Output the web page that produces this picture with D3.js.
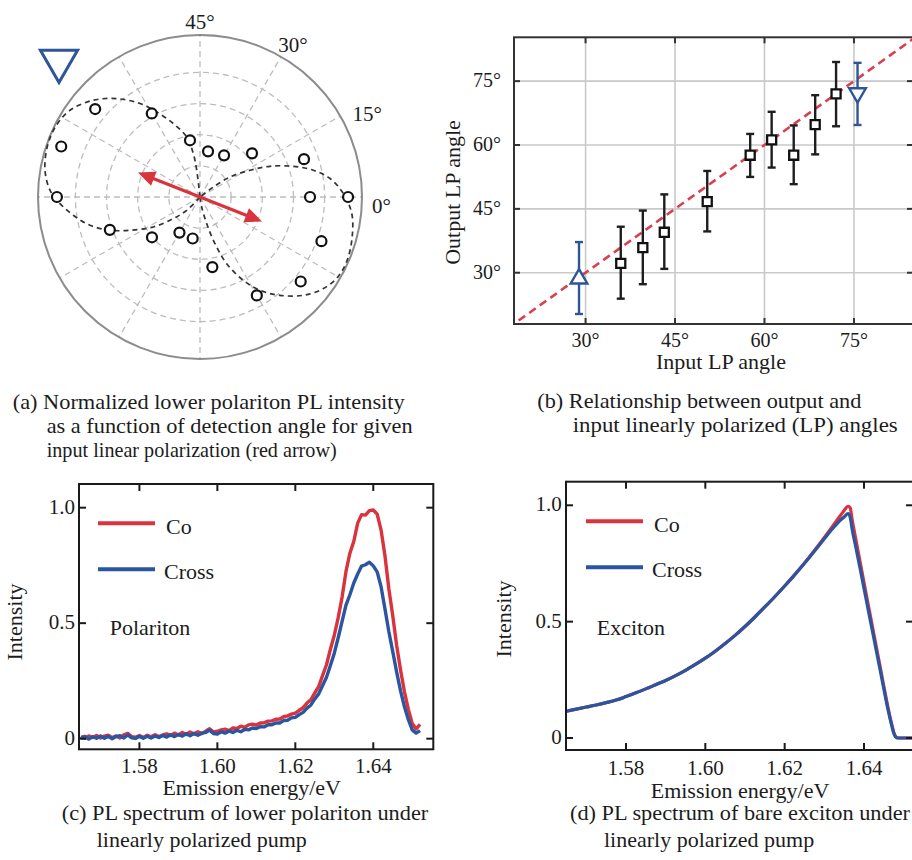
<!DOCTYPE html>
<html>
<head>
<meta charset="utf-8">
<script src="https://cdn.jsdelivr.net/npm/d3@7/dist/d3.min.js"></script>
<style>
  html, body { margin: 0; padding: 0; background: #fff; }
  svg text { font-family: "Liberation Serif", "Times New Roman", Times, serif; fill: #1c1c1c; }
</style>
</head>
<body>
<svg id="fig" width="912" height="860"></svg>
<script>
// ---------- (a) polar pattern of the lower polariton PL ----------
const detectionAngles = [0, 0, 20, 40, 60, 80, 100, 120, 140, 160, 180, 200, 220, 240, 260, 280, 300, 320, 340];
const detectionIntensity = [0.883, 1.188, 0.888, 0.545, 0.386, 0.372, 0.462, 0.774, 1.098, 1.185, 1.148, 0.770, 0.503, 0.330, 0.338, 0.571, 0.912, 1.055, 1.037];
// fitted two-lobe pattern (angle in degrees, radius)
const fitLobeAAngles = [97.0, 98.8, 102.5, 110.0, 117.0, 122.7, 130.3, 137.8, 146.3, 154.2, 161.9, 170.2, 177.4, 182.7, 188.2, 194.4, 200.3, 205.4, 212.7, 219.0, 225.0];
const fitLobeARadii  = [0.216, 0.352, 0.494, 0.627, 0.766, 0.891, 1.035, 1.156, 1.254, 1.290, 1.290, 1.262, 1.205, 1.125, 1.027, 0.912, 0.770, 0.622, 0.445, 0.275, 0.151];
const fitLobeBAngles = [-80.4, -75.9, -72.2, -68.2, -62.5, -57.3, -50.9, -43.6, -36.6, -29.7, -22.9, -14.6, -6.2, 1.4, 8.1, 13.3, 18.2, 23.7, 28.1, 33.7, 36.9];
const fitLobeBRadii  = [0.081, 0.220, 0.393, 0.576, 0.754, 0.890, 1.017, 1.144, 1.233, 1.280, 1.285, 1.262, 1.225, 1.150, 1.054, 0.934, 0.788, 0.613, 0.455, 0.290, 0.133];
const ringValues = [0.25, 0.5, 0.75, 1.0];
const spokeAngles = [0, 30, 60, 90, 120, 150, 180, 210, 240, 270, 300, 330];
const polarTickAngles = [0, 30, 60, 90];
const polarTickLabels = ["0°", "15°", "30°", "45°"];
const pumpAngle = -21.5;     // input linear polarization direction
const pumpLength = 0.535;

// ---------- (b) output vs input LP angle ----------
const inputLP  = [35.9, 39.6, 43.2, 50.4, 57.6, 61.2, 64.9, 68.5, 72.0];
const outputLP = [32.2, 35.9, 39.5, 46.7, 57.6, 61.2, 57.6, 64.8, 72.0];
const outputLow  = [23.9, 27.3, 30.9, 39.7, 52.5, 54.7, 50.8, 57.8, 64.4];
const outputHigh = [40.8, 44.6, 48.4, 53.9, 62.6, 67.8, 64.6, 71.7, 79.5];
const limitInput  = [28.9, 75.6];
const limitOutput = [28.6, 72.2];
const limitLow    = [20.3, 64.7];
const limitHigh   = [37.2, 79.3];
const angleTicks = [30, 45, 60, 75];

// ---------- (c) polariton PL spectra ----------
const polaritonStart = 1.565, polaritonStep = 0.001;
const polaritonCo = [
  0.010,0.002,0.012,0.005,0.014,0.003,0.011,0.015,0.004,0.012,
  0.003,0.017,0.023,0.009,0.006,0.014,0.005,0.015,0.008,0.017,
  0.009,0.016,0.021,0.014,0.024,0.016,0.027,0.018,0.029,0.020,
  0.030,0.022,0.032,0.043,0.029,0.032,0.038,0.041,0.035,0.046,
  0.044,0.054,0.049,0.060,0.063,0.059,0.068,0.069,0.076,0.077,
  0.084,0.085,0.095,0.099,0.106,0.111,0.123,0.134,0.154,0.169,
  0.198,0.226,0.274,0.320,0.387,0.448,0.524,0.613,0.724,0.803,
  0.854,0.933,0.970,0.968,0.987,0.990,0.972,0.903,0.792,0.648,
  0.532,0.403,0.297,0.203,0.127,0.066,0.042,0.062];
const polaritonCross = [
  0.001,0.010,-0.002,0.008,0.002,0.012,0.002,0.010,0.000,0.009,
  0.013,0.003,0.016,0.004,0.001,0.010,0.002,0.011,0.003,0.012,
  0.005,0.014,0.007,0.017,0.009,0.018,0.011,0.021,0.013,0.023,
  0.015,0.024,0.027,0.037,0.022,0.020,0.030,0.024,0.033,0.027,
  0.036,0.030,0.040,0.038,0.046,0.044,0.052,0.051,0.060,0.060,
  0.068,0.068,0.078,0.080,0.090,0.092,0.104,0.114,0.132,0.146,
  0.172,0.194,0.230,0.266,0.317,0.370,0.437,0.508,0.578,0.623,
  0.674,0.713,0.747,0.753,0.764,0.748,0.722,0.658,0.562,0.463,
  0.377,0.288,0.207,0.138,0.082,0.038,0.024,0.035];

// ---------- (d) bare exciton PL spectra ----------
const excitonEnergy = [1.565, 1.5675, 1.570, 1.5725, 1.575, 1.5775, 1.580, 1.5825, 1.585, 1.5875,
  1.590, 1.5925, 1.595, 1.5975, 1.600, 1.6025, 1.605, 1.6075, 1.610, 1.6125, 1.615, 1.6175, 1.620,
  1.6225, 1.625, 1.6275, 1.630, 1.632, 1.634, 1.635, 1.636, 1.6365, 1.637, 1.638, 1.639, 1.640,
  1.641, 1.642, 1.643, 1.644, 1.645, 1.646, 1.647, 1.6475, 1.648, 1.6485, 1.650, 1.6525];
const excitonCross = [0.115, 0.124, 0.133, 0.142, 0.152, 0.163, 0.178, 0.194, 0.211, 0.229,
  0.247, 0.268, 0.291, 0.316, 0.343, 0.373, 0.406, 0.441, 0.479, 0.520, 0.563, 0.607, 0.653,
  0.701, 0.751, 0.803, 0.856, 0.898, 0.935, 0.950, 0.964, 0.950, 0.898, 0.815, 0.730, 0.643,
  0.556, 0.470, 0.384, 0.298, 0.211, 0.126, 0.052, 0.020, 0.004, 0, 0, 0];
const excitonCo = [0.115, 0.124, 0.133, 0.142, 0.152, 0.163, 0.178, 0.194, 0.211, 0.229,
  0.247, 0.268, 0.291, 0.316, 0.343, 0.373, 0.406, 0.441, 0.479, 0.520, 0.563, 0.607, 0.653,
  0.701, 0.752, 0.806, 0.862, 0.908, 0.955, 0.978, 0.996, 0.990, 0.940, 0.848, 0.758, 0.668,
  0.578, 0.490, 0.401, 0.312, 0.222, 0.135, 0.058, 0.025, 0.006, 0, 0, 0];
const energyTicks = [1.58, 1.60, 1.62, 1.64];
const intensityTicks = [0, 0.5, 1.0];
const legendNames = ["Co", "Cross"];

const captionA = ["(a) Normalized lower polariton PL intensity", "as a function of detection angle for given", "input linear polarization (red arrow)"];
const captionB = ["(b) Relationship between output and", "input linearly polarized (LP) angles"];
const captionC = ["(c) PL spectrum of lower polariton under", "linearly polarized pump"];
const captionD = ["(d) PL spectrum of bare exciton under", "linearly polarized pump"];

const RED = "#d9333d", BLUE = "#2a55a0", MARKER_BLUE = "#2d5597";
const svg = d3.select("#fig");

// shared helpers
function text(g, str, x, y, size, anchor) {
  return g.append("text").attr("x", x).attr("y", y).attr("font-size", size)
    .attr("text-anchor", anchor || "start").text(str);
}
// caption lines: [x, baseline, optional fitted width]
function captionBlock(lines, pos) {
  lines.forEach((s, i) => {
    const t = text(svg, s, pos[i][0], pos[i][1], 22);
    if (pos[i][2]) t.attr("textLength", pos[i][2]).attr("lengthAdjust", "spacingAndGlyphs");
  });
}
function frame(g, x0, x1, y0, y1, xt, yt, tl, color) {
  g.append("rect").attr("x", x0).attr("y", y0).attr("width", x1 - x0).attr("height", y1 - y0)
    .attr("fill", "none").attr("stroke", color).attr("stroke-width", 2);
  xt.forEach(px => {
    g.append("line").attr("x1", px).attr("x2", px).attr("y1", y1).attr("y2", y1 - tl).attr("stroke", color).attr("stroke-width", 2);
    g.append("line").attr("x1", px).attr("x2", px).attr("y1", y0).attr("y2", y0 + tl).attr("stroke", color).attr("stroke-width", 2);
  });
  yt.forEach(py => {
    g.append("line").attr("x1", x0).attr("x2", x0 + tl).attr("y1", py).attr("y2", py).attr("stroke", color).attr("stroke-width", 2);
    g.append("line").attr("x1", x1).attr("x2", x1 - tl).attr("y1", py).attr("y2", py).attr("stroke", color).attr("stroke-width", 2);
  });
}

// ================= (a) =================
(function () {
  const cx = 200, cy = 197;
  const g = svg.append("g").attr("transform", `translate(${cx},${cy})`);
  const r = d3.scaleLinear().domain([0, 1.3]).range([0, 162]);
  const rad = d => d * Math.PI / 180;
  const xy = (a, v) => [r(v) * Math.cos(rad(a)), -r(v) * Math.sin(rad(a))];

  g.selectAll("circle.ring").data(ringValues).join("circle").attr("class", "ring")
    .attr("r", d => r(d)).attr("fill", "none").attr("stroke", "#bdbdbd")
    .attr("stroke-width", 1.3).attr("stroke-dasharray", "6,4");
  g.selectAll("line.spoke").data(spokeAngles).join("line").attr("class", "spoke")
    .attr("x1", 0).attr("y1", 0)
    .attr("x2", d => xy(d, 1.3)[0]).attr("y2", d => xy(d, 1.3)[1])
    .attr("stroke", "#bdbdbd").attr("stroke-width", 1.3).attr("stroke-dasharray", "6,4");
  g.append("circle").attr("r", r(1.3)).attr("fill", "none").attr("stroke", "#8c8c8c").attr("stroke-width", 2);

  // fitted lobes
  const radial = d3.lineRadial()
    .angle(d => rad(90 - d[0])).radius(d => r(d[1]))
    .curve(d3.curveCatmullRom.alpha(0.5));
  function lobe(angles, radii) {
    const pts = angles.map((a, i) => [a, radii[i]]);
    return [[angles[0], 0]].concat(pts, [[angles[angles.length - 1], 0]]);
  }
  [[fitLobeAAngles, fitLobeARadii], [fitLobeBAngles, fitLobeBRadii]].forEach(([a, v]) => {
    g.append("path").attr("d", radial(lobe(a, v))).attr("fill", "none")
      .attr("stroke", "#333").attr("stroke-width", 1.7).attr("stroke-dasharray", "5,4");
  });

  // measured points
  g.selectAll("circle.pt").data(detectionAngles.map((a, i) => [a, detectionIntensity[i]]))
    .join("circle").attr("class", "pt")
    .attr("cx", d => xy(d[0], d[1])[0]).attr("cy", d => xy(d[0], d[1])[1])
    .attr("r", 5).attr("fill", "#fff").attr("stroke", "#111").attr("stroke-width", 2.2);

  // pump polarization (double arrow)
  const tipA = xy(pumpAngle, pumpLength), tipB = xy(pumpAngle + 180, pumpLength);
  const ux = Math.cos(rad(pumpAngle)), uy = -Math.sin(rad(pumpAngle));
  const head = 17, half = 7.5;
  g.append("line")
    .attr("x1", tipB[0] + ux * (head - 2)).attr("y1", tipB[1] + uy * (head - 2))
    .attr("x2", tipA[0] - ux * (head - 2)).attr("y2", tipA[1] - uy * (head - 2))
    .attr("stroke", RED).attr("stroke-width", 3.2);
  [[tipA, 1], [tipB, -1]].forEach(([t, s]) => {
    const bx = t[0] - s * ux * head, by = t[1] - s * uy * head;
    const pts = [[t[0], t[1]], [bx - uy * half, by + ux * half], [bx + uy * half, by - ux * half]];
    g.append("polygon").attr("points", pts.map(p => p.join(",")).join(" ")).attr("fill", RED);
  });

  // angle labels
  const nudge = { 0: [-4, 16, "start"], 30: [0, 12, "start"], 60: [5, 7, "middle"], 90: [0, 8, "middle"] };
  polarTickAngles.forEach((a, i) => {
    const p = xy(a, 1.413);
    const n = nudge[a];
    text(g, polarTickLabels[i], p[0] + n[0], p[1] + n[1], 21, n[2]);
  });

  // reference marker
  svg.append("path").attr("d", d3.symbol().type(d3.symbolTriangle).size(600)())
    .attr("transform", "translate(59,61) rotate(180)")
    .attr("fill", "#fff").attr("stroke", MARKER_BLUE).attr("stroke-width", 3);

  captionBlock(captionA, [[12.7, 409, 392], [46.7, 433, 366], [46.7, 456.5, 290]]);
})();

// ================= (b) =================
(function () {
  const L = 514, R = 913, T = 37.3, B = 324;
  const x = d3.scaleLinear().domain([18, 84.9]).range([L, R]);
  const y = d3.scaleLinear().domain([17.95, 85.3]).range([B, T]);
  const g = svg.append("g");
  g.append("clipPath").attr("id", "clipB").append("rect").attr("x", L).attr("y", T).attr("width", R - L).attr("height", B - T);

  // grid
  angleTicks.forEach(t => {
    g.append("line").attr("x1", x(t)).attr("x2", x(t)).attr("y1", T).attr("y2", B).attr("stroke", "#c9c9c9").attr("stroke-width", 1.6);
    g.append("line").attr("x1", L).attr("x2", R).attr("y1", y(t)).attr("y2", y(t)).attr("stroke", "#c9c9c9").attr("stroke-width", 1.6);
  });
  // identity line
  g.append("line").attr("clip-path", "url(#clipB)")
    .attr("x1", x(17)).attr("y1", y(17)).attr("x2", x(90)).attr("y2", y(90))
    .attr("stroke", "#d8404f").attr("stroke-width", 2.6).attr("stroke-dasharray", "8,5");

  // error bars + markers
  function errBar(xi, lo, hi, color) {
    g.append("line").attr("x1", x(xi)).attr("x2", x(xi)).attr("y1", y(lo)).attr("y2", y(hi)).attr("stroke", color).attr("stroke-width", 2.4);
    [lo, hi].forEach(v => g.append("line").attr("x1", x(xi) - 4).attr("x2", x(xi) + 4).attr("y1", y(v)).attr("y2", y(v)).attr("stroke", color).attr("stroke-width", 2.4));
  }
  inputLP.forEach((xi, i) => errBar(xi, outputLow[i], outputHigh[i], "#1e1e1e"));
  limitInput.forEach((xi, i) => errBar(xi, limitLow[i], limitHigh[i], MARKER_BLUE));
  g.selectAll("path.sq").data(inputLP).join("path").attr("class", "sq")
    .attr("d", d3.symbol().type(d3.symbolSquare).size(82)())
    .attr("transform", (d, i) => `translate(${x(d)},${y(outputLP[i])})`)
    .attr("fill", "#fff").attr("stroke", "#111").attr("stroke-width", 2.3);
  g.selectAll("path.tri").data(limitInput).join("path").attr("class", "tri")
    .attr("d", d3.symbol().type(d3.symbolTriangle).size(120)())
    .attr("transform", (d, i) => `translate(${x(d)},${y(limitOutput[i])}) rotate(${i === 0 ? 0 : 180})`)
    .attr("fill", "#fff").attr("stroke", MARKER_BLUE).attr("stroke-width", 2.4);

  frame(g, L, R, T, B, angleTicks.map(x), angleTicks.map(y), 6, "#333");

  angleTicks.forEach(t => {
    text(g, t + "°", x(t), 347, 20, "middle");
    text(g, t + "°", 501, y(t) + 6, 20, "end");
  });
  text(g, "Input LP angle", 721, 368.5, 22, "middle");
  text(g, "Output LP angle", 0, 0, 22, "middle").attr("transform", "translate(460,192.5) rotate(-90)");

  captionBlock(captionB, [[537.3, 408, 324], [572.7, 431.7, 325]]);
})();

// ================= (c) and (d) =================
function spectrumPanel(o) {
  const x = d3.scaleLinear().domain(o.xDomain).range([o.L, o.R]);
  const y = d3.scaleLinear().domain(o.yDomain).range([o.B, o.T]);
  const g = svg.append("g");
  const id = "clip" + o.key;
  g.append("clipPath").attr("id", id).append("rect").attr("x", o.L).attr("y", o.T).attr("width", o.R - o.L).attr("height", o.B - o.T);
  const line = d3.line().x(d => x(d[0])).y(d => y(d[1])).curve(o.curve);
  [[o.co, RED], [o.cross, BLUE]].forEach(([vals, c]) => {
    g.append("path").attr("clip-path", `url(#${id})`)
      .attr("d", line(vals.map((v, i) => [o.energy[i], v])))
      .attr("fill", "none").attr("stroke", c).attr("stroke-width", o.width).attr("stroke-linejoin", "round");
  });
  frame(g, o.L, o.R, o.T, o.B, energyTicks.map(x), intensityTicks.map(y), 7, "#1a1a1a");

  energyTicks.forEach(t => text(g, d3.format(".2f")(t), x(t), o.xLabelY, 21, "middle"));
  intensityTicks.forEach(t => text(g, t === 0 ? "0" : d3.format(".1f")(t), o.yLabelX, y(t) + 6, 21, "end"));
  text(g, "Emission energy/eV", o.xTitle[0], o.xTitle[1], 22, "middle");
  text(g, "Intensity", 0, 0, 22, "middle").attr("transform", `translate(${o.yTitle[0]},${o.yTitle[1]}) rotate(-90)`);

  // legend
  [RED, BLUE].forEach((c, i) => {
    const ly = o.legend[1] + i * 46;
    g.append("line").attr("x1", o.legend[0]).attr("x2", o.legend[0] + 57).attr("y1", ly).attr("y2", ly)
      .attr("stroke", c).attr("stroke-width", 4);
    text(g, legendNames[i], o.legend[0] + (i === 0 ? 68 : 66), ly + (i === 0 ? 10.5 : 9.5), 22, "start");
  });
  text(g, o.name, o.nameXY[0], o.nameXY[1], 22, "start");
}

spectrumPanel({
  key: "C", L: 79, R: 433.3, T: 484, B: 749.3,
  xDomain: [1.5645, 1.6554], yDomain: [-0.046, 1.1025],
  energy: polaritonCo.map((_, i) => polaritonStart + i * polaritonStep),
  co: polaritonCo, cross: polaritonCross, curve: d3.curveLinear, width: 3.4,
  xLabelY: 772.5, yLabelX: 75, xTitle: [251.7, 795], yTitle: [22, 622],
  legend: [98, 523.3], name: "Polariton", nameXY: [109.7, 634.7]
});
spectrumPanel({
  key: "D", L: 566, R: 913, T: 481.7, B: 750,
  xDomain: [1.56488, 1.65235], yDomain: [-0.0516, 1.1014],
  energy: excitonEnergy,
  co: excitonCo, cross: excitonCross, curve: d3.curveMonotoneX, width: 3.2,
  xLabelY: 774.5, yLabelX: 561.7, xTitle: [740, 798], yTitle: [511, 619],
  legend: [586, 521.3], name: "Exciton", nameXY: [596.7, 634.7]
});

captionBlock(captionC, [[61.7, 820, 366.6], [96.7, 847]]);
captionBlock(captionD, [[570, 820, 340], [604, 847]]);
</script>
</body>
</html>
